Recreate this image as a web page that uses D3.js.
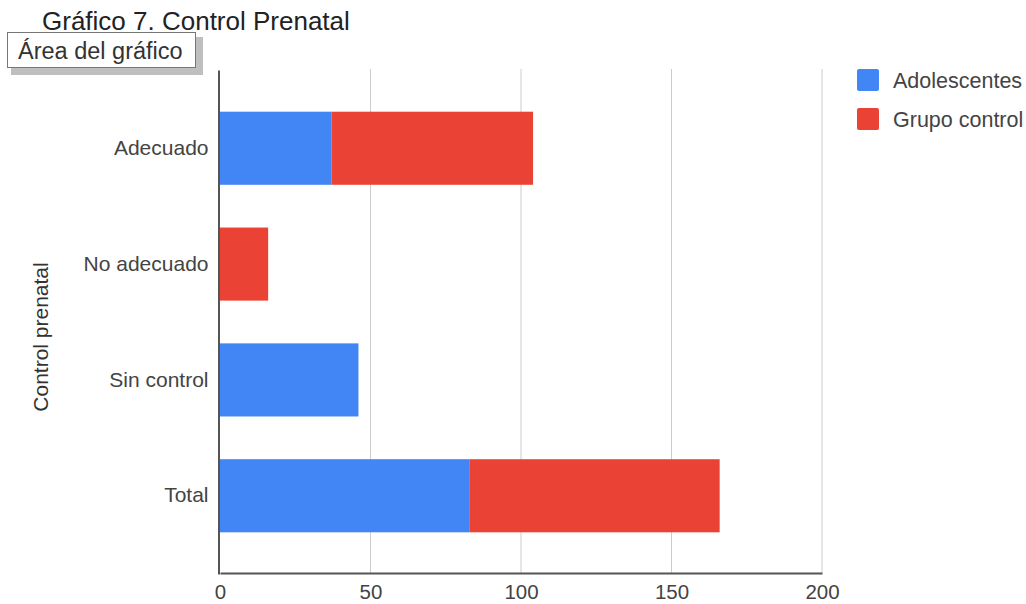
<!DOCTYPE html>
<html><head><meta charset="utf-8">
<script src="https://cdn.jsdelivr.net/npm/d3@7"></script>
<style>body{margin:0;background:#fff;}svg{display:block;font-family:Arial,"Liberation Sans",sans-serif;}</style>
</head><body>
<svg id="c" width="1026" height="604"></svg>
<script>
const categories = ["Adecuado", "No adecuado", "Sin control", "Total"];
const seriesNames = ["Adolescentes", "Grupo control"];
const adolescentes = [37, 0, 46, 83];
const grupoControl = [67, 16, 0, 83];
const xTicks = [0, 50, 100, 150, 200];
const colors = ["#4285F4", "#EA4335"];

(function () {
const svg = d3.select("#c");
const FF = "Arial,'Liberation Sans',sans-serif";
const mLeft = 220, mRight = 822, mTop = 69, mBottom = 573;
const x = d3.scaleLinear().domain([0, 200]).range([mLeft, mRight]);
const y = d3.scaleBand().domain(categories).range([mTop, mBottom]).paddingInner(0.369).paddingOuter(0.36);

// gridlines
svg.append("g").selectAll("line").data(xTicks.slice(1)).join("line")
  .attr("x1", d => x(d)).attr("x2", d => x(d)).attr("y1", mTop).attr("y2", mBottom)
  .attr("stroke", "#cccccc").attr("stroke-width", 1);

// bars
const rows = categories.map((c, i) => ({c, a: adolescentes[i], g: grupoControl[i]}));
const stack = d3.stack().keys(["a", "g"])(rows);
svg.append("g").selectAll("g").data(stack).join("g").attr("fill", (d, i) => colors[i])
  .selectAll("rect").data(d => d).join("rect")
  .attr("x", d => x(d[0])).attr("width", d => x(d[1]) - x(d[0]))
  .attr("y", d => y(d.data.c) + 1).attr("height", y.bandwidth());

// axes
const xAxis = d3.axisBottom(x).tickValues(xTicks).tickSize(0).tickPadding(11);
const gx = svg.append("g").attr("transform", `translate(0,${mBottom})`).call(xAxis);
gx.select(".domain").attr("stroke", "#555").attr("stroke-width", 2);
gx.selectAll("text").attr("font-size", 20.5).attr("fill", "#444").attr("font-family", FF);

const yAxis = d3.axisLeft(y).tickSize(0).tickPadding(10);
const gy = svg.append("g").attr("transform", `translate(${mLeft - 1.5},1)`).call(yAxis);
gy.select(".domain").attr("stroke", "#555").attr("stroke-width", 2);
gy.selectAll("text").attr("font-size", 21).attr("fill", "#444").attr("font-family", FF);

// axis title
svg.append("text").attr("transform", "translate(48,337) rotate(-90)").attr("text-anchor", "middle")
  .attr("font-size", 21).attr("fill", "#333").attr("font-family", FF).text("Control prenatal");

// legend
const lg = svg.append("g").selectAll("g").data(seriesNames).join("g")
  .attr("transform", (d, i) => `translate(857,${69 + i * 39})`);
lg.append("rect").attr("width", 22).attr("height", 22).attr("rx", 2).attr("fill", (d, i) => colors[i]);
lg.append("text").attr("x", 36).attr("y", 19).attr("font-size", 21.5).attr("fill", "#444").attr("font-family", FF).text(d => d);

// title
svg.append("text").attr("x", 42).attr("y", 30).attr("font-size", 26).attr("fill", "#222").attr("font-family", FF).text("Gráfico 7. Control Prenatal");

// tooltip box "Área del gráfico"
svg.append("rect").attr("x", 11).attr("y", 37).attr("width", 192).attr("height", 38).attr("fill", "#8a8a8a").attr("opacity", 0.55);
svg.append("rect").attr("x", 7.5).attr("y", 32.5).attr("width", 188).attr("height", 35).attr("fill", "#fff").attr("stroke", "#777");
svg.append("text").attr("x", 18).attr("y", 59).attr("font-size", 23.5).attr("fill", "#333").attr("font-family", FF).text("Área del gráfico");
})();
</script>
</body></html>
